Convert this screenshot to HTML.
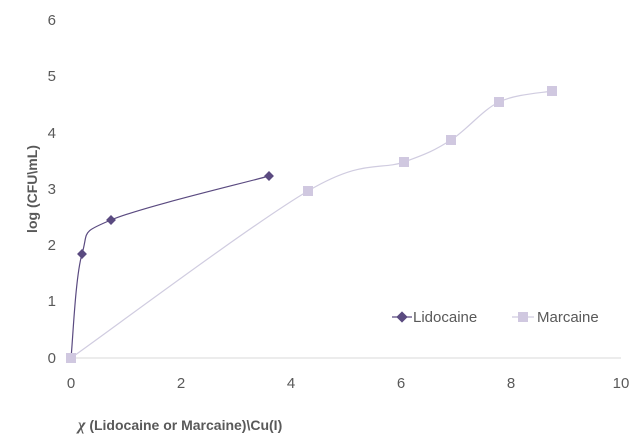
<!DOCTYPE html>
<html><head><meta charset="utf-8"><style>
body{margin:0;background:#fff;}
svg{display:block;font-family:"Liberation Sans",sans-serif;}
</style></head><body>
<svg id="s" width="642" height="443" viewBox="0 0 642 443">
<line x1="71" y1="358" x2="621" y2="358" stroke="#d9d9d9" stroke-width="1"/>
<g fill="#595959" font-size="15" text-anchor="end">
<text x="56" y="363">0</text><text x="56" y="306">1</text><text x="56" y="250">2</text>
<text x="56" y="194">3</text><text x="56" y="138">4</text><text x="56" y="81">5</text><text x="56" y="25">6</text>
</g>
<g fill="#595959" font-size="15" text-anchor="middle">
<text x="71" y="388">0</text><text x="181" y="388">2</text><text x="291" y="388">4</text>
<text x="401" y="388">6</text><text x="511" y="388">8</text><text x="621" y="388">10</text>
</g>
<text transform="translate(37,189) rotate(-90)" text-anchor="middle" font-size="14" font-weight="bold" fill="#595959">log (CFU\mL)</text>
<text x="78" y="430" font-size="14" font-weight="bold" fill="#595959"><tspan font-style="italic" font-family="Liberation Serif" font-size="16">χ</tspan> (Lidocaine or Marcaine)\Cu(I)</text>
<path id="mp" fill="none" stroke="#d0cce0" stroke-width="1.2"/>
<path id="lp" fill="none" stroke="#5a4a80" stroke-width="1.2"/>
<g id="mk"></g>
<line x1="392" y1="317" x2="412" y2="317" stroke="#5a4a80" stroke-width="1.2"/>
<rect x="398" y="313" width="8" height="8" fill="#5a4a80" transform="rotate(45 402 317)"/>
<text x="413" y="322" font-size="15" fill="#595959">Lidocaine</text>
<line x1="512" y1="317" x2="534" y2="317" stroke="#d0cce0" stroke-width="1.2"/>
<rect x="518" y="312" width="10" height="10" fill="#d0c8e0"/>
<text x="537" y="322" font-size="15" fill="#595959">Marcaine</text>
</svg>
<script>
function cr(p){let d="M"+p[0][0]+","+p[0][1];for(let i=0;i<p.length-1;i++){const a=p[Math.max(0,i-1)],b=p[i],c=p[i+1],e=p[Math.min(p.length-1,i+2)];const t=6;d+=" C"+(b[0]+(c[0]-a[0])/t)+","+(b[1]+(c[1]-a[1])/t)+" "+(c[0]-(e[0]-b[0])/t)+","+(c[1]-(e[1]-b[1])/t)+" "+c[0]+","+c[1];}return d;}
const L=[[71,358],[82,254],[111,220],[269,176]];
const M=[[71,358],[308,191],[404,162],[451,140],[499,102],[552,91]];
document.getElementById("lp").setAttribute("d",cr(L));
document.getElementById("mp").setAttribute("d",cr(M));
let g="";
L.forEach(p=>g+=`<rect x="${p[0]-3.5}" y="${p[1]-3.5}" width="7" height="7" fill="#5a4a80" transform="rotate(45 ${p[0]} ${p[1]})"/>`);
M.forEach(p=>g+=`<rect x="${p[0]-5}" y="${p[1]-5}" width="10" height="10" fill="#d0c8e0"/>`);
document.getElementById("mk").innerHTML=g;
</script>
</body></html>
